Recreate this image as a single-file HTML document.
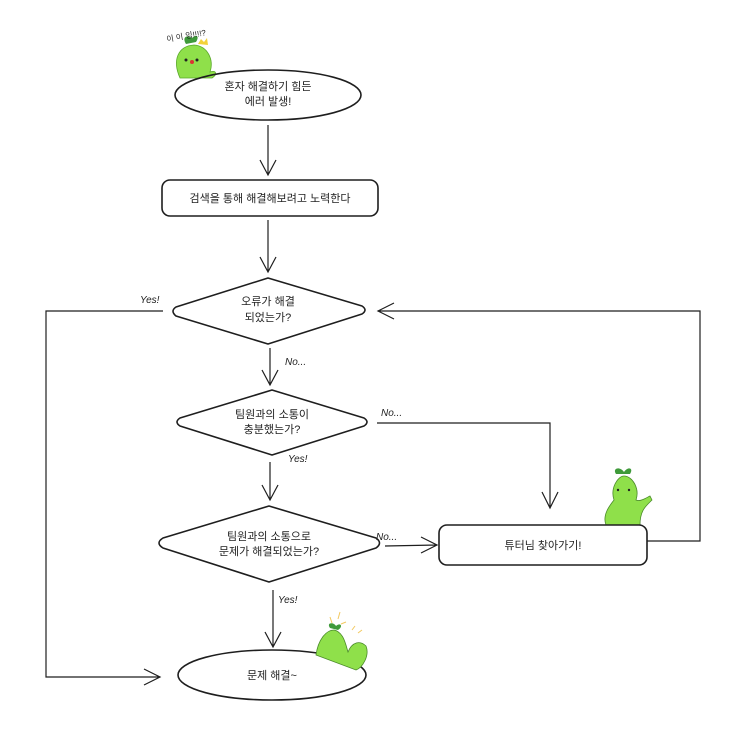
<!DOCTYPE html>
<html><head><meta charset="utf-8"><style>
html,body{margin:0;padding:0;background:#fff;}
svg text{font-family:"Liberation Sans","Noto Sans CJK KR",sans-serif;font-size:11px;fill:#222;}
.s{fill:none;stroke:#1e1e1e;stroke-width:1.6;stroke-linecap:round;stroke-linejoin:round;}
.t{fill:none;stroke:#1e1e1e;stroke-width:1.2;}
.l{font-style:italic;font-size:10px;}
</style></head><body>
<svg width="739" height="740" viewBox="0 0 739 740" xmlns="http://www.w3.org/2000/svg">
<!-- mascot 1 -->
<g>
<path d="M180 78 C172 60 178 46 194 45 C208 46 214 60 210 72 C216 70 218 74 212 78 Z" fill="#8fe04a" stroke="#5aa82a" stroke-width="0.8"/>
<path d="M186 44 C182 38 186 34 192 38 C196 34 200 36 196 42 Z" fill="#3f9a3a"/>
<path d="M198 44 l3 -5 l3 3 l3 -4 l1 7 Z" fill="#f3d23a"/>
<circle cx="192" cy="62" r="2" fill="#d33"/><circle cx="186" cy="60" r="1.5" fill="#222"/><circle cx="197" cy="60" r="1.5" fill="#222"/>
<text x="167" y="42" style="font-size:8px" transform="rotate(-10 167 42)">이 이 잉!!!!?</text>
</g>
<!-- node 1 -->
<ellipse class="s" cx="268" cy="95" rx="93" ry="25" fill="#fff"/>
<text x="268" y="90" text-anchor="middle">혼자 해결하기 힘든</text>
<text x="268" y="105" text-anchor="middle">에러 발생!</text>
<path class="t" d="M268 125 L268 175 M260 160 L268 175 L276 160"/>
<rect class="s" x="162" y="180" width="216" height="36" rx="8"/>
<text x="270" y="202" text-anchor="middle">검색을 통해 해결해보려고 노력한다</text>
<path class="t" d="M268 220 L268 272 M260 257 L268 272 L276 257"/>
<!-- diamond 3 -->
<path class="s" d="M268 278 L362 306 Q368 310 362 314 L268 344 L176 316 Q170 311 176 307 Z"/>
<text x="268" y="305" text-anchor="middle">오류가 해결</text>
<text x="268" y="321" text-anchor="middle">되었는가?</text>
<path class="t" d="M270 348 L270 385 M262 370 L270 385 L278 370"/>
<text class="l" x="285" y="365">No...</text>
<!-- diamond 4 -->
<path class="s" d="M272 390 L364 418 Q370 422 364 426 L272 455 L180 426 Q174 422 180 418 Z"/>
<text x="272" y="418" text-anchor="middle">팀원과의 소통이</text>
<text x="272" y="433" text-anchor="middle">충분했는가?</text>
<text class="l" x="381" y="416">No...</text>
<path class="t" d="M377 423 L550 423 L550 508 M542 492 L550 508 L558 492"/>
<text class="l" x="288" y="462">Yes!</text>
<path class="t" d="M270 462 L270 500 M262 485 L270 500 L278 485"/>
<!-- diamond 5 -->
<path class="s" d="M269 506 L376 538 Q383 543 376 548 L269 582 L163 548 Q155 543 163 538 Z"/>
<text x="269" y="540" text-anchor="middle">팀원과의 소통으로</text>
<text x="269" y="555" text-anchor="middle">문제가 해결되었는가?</text>
<text class="l" x="376" y="540">No...</text>
<path class="t" d="M385 546 L437 545 M421 537 L437 545 L421 553"/>
<!-- mascot 2 -->
<g>
<path d="M606 525 C602 515 610 505 614 500 C610 488 618 476 624 476 C632 476 640 488 636 500 C640 502 646 498 650 496 L652 500 C646 506 640 510 640 525 Z" fill="#8fe04a" stroke="#4a8a2a" stroke-width="0.8"/>
<path d="M616 474 C612 468 620 466 624 472 C628 466 634 468 630 474 Z" fill="#3f9a3a"/>
<circle cx="618" cy="490" r="1.2" fill="#222"/><circle cx="629" cy="490" r="1.2" fill="#222"/>
</g>
<rect class="s" x="439" y="525" width="208" height="40" rx="8" fill="#fff"/>
<text x="543" y="549" text-anchor="middle">튜터님 찾아가기!</text>
<path class="t" d="M647 541 L700 541 L700 311 L378 311 M394 303 L378 311 L394 319"/>
<text class="l" x="278" y="603">Yes!</text>
<path class="t" d="M273 590 L273 647 M265 632 L273 647 L281 632"/>
<!-- ellipse end -->
<ellipse class="s" cx="272" cy="675" rx="94" ry="25" fill="#fff"/>
<!-- mascot 3 -->
<g>
<path d="M316 655 C318 640 326 630 334 630 C344 632 346 646 348 652 C352 642 360 640 366 646 C370 656 362 668 356 670 Z" fill="#8fe04a" stroke="#4a8a2a" stroke-width="0.8"/>
<path d="M330 628 C326 622 334 622 336 626 C340 622 344 626 338 630 Z" fill="#3f9a3a"/>
<path d="M330 617 l2 6 M340 612 l-2 7 M346 622 l-5 2 M352 630 l3 -4 M358 633 l4 -3" stroke="#f3c960" stroke-width="1"/>
</g>
<text x="272" y="679" text-anchor="middle">문제 해결~</text>
<!-- left yes -->
<text class="l" x="140" y="303">Yes!</text>
<path class="t" d="M163 311 L46 311 L46 677 L160 677 M144 669 L160 677 L144 685"/>
</svg>
</body></html>
